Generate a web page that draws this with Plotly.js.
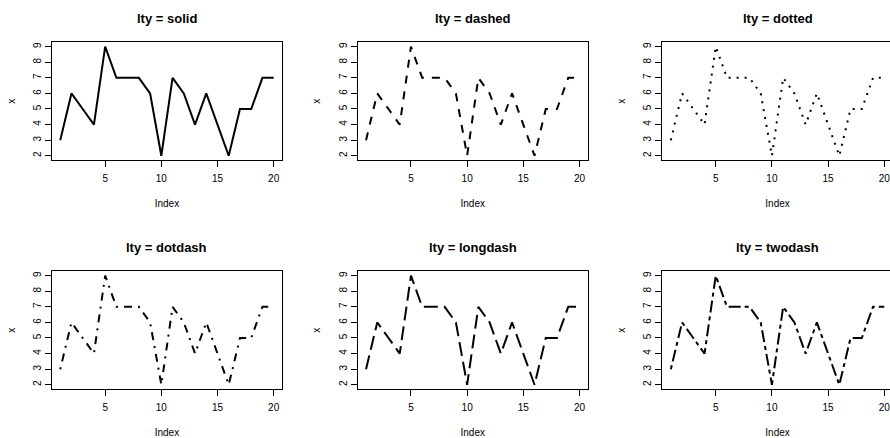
<!DOCTYPE html>
<html>
<head>
<meta charset="utf-8">
<script src="https://cdn.plot.ly/plotly-3.0.1.min.js"></script>
<style>
html, body { margin: 0; padding: 0; overflow: hidden; background: #fff; }
#chart { width: 900px; height: 438px; }
</style>
</head>
<body>
<div id="chart"></div>
<script>
// Data
const index = [1,2,3,4,5,6,7,8,9,10,11,12,13,14,15,16,17,18,19,20];
const xValues = [3,6,5,4,9,7,7,7,6,2,7,6,4,6,4,2,5,5,7,7];
const ltyNames = ["solid","dashed","dotted","dotdash","longdash","twodash"];
const dashPatterns = ["solid","8px,8px","2px,6px","2px,6px,8px,6px","14px,6px","4px,4px,12px,4px"];
const xTicks = [5,10,15,20];
const yTicks = [2,3,4,5,6,7,8,9];

const W = 900, H = 438;
const colLeft = [51.7, 357.5, 662.3];
const boxW = 230.5;
const rowTop = [42.3, 271.3];
const boxH = 117.8;
const FONT = '"Liberation Sans", Arial, Helvetica, sans-serif';

const traces = [];
const layout = {
  width: W, height: H,
  margin: {l:0, r:0, t:0, b:0},
  paper_bgcolor: '#fff', plot_bgcolor: '#fff',
  showlegend: false,
  font: {family: FONT, color: '#000', size: 10},
  annotations: []
};

ltyNames.forEach((name, i) => {
  const r = Math.floor(i / 3), c = i % 3;
  const n = i + 1;
  const xa = 'xaxis' + (n === 1 ? '' : n);
  const ya = 'yaxis' + (n === 1 ? '' : n);
  const xref = 'x' + (n === 1 ? '' : n);
  const yref = 'y' + (n === 1 ? '' : n);
  traces.push({
    type: 'scatter', mode: 'lines',
    x: index, y: xValues,
    xaxis: xref, yaxis: yref,
    line: {color: '#000', width: 2, dash: dashPatterns[i]},
    hoverinfo: 'skip'
  });
  const x0 = colLeft[c] / W, x1 = (colLeft[c] + boxW) / W;
  const yTop = 1 - rowTop[r] / H, yBot = 1 - (rowTop[r] + boxH) / H;
  layout[xa] = {
    domain: [x0, Math.min(x1, 1)],
    range: [0.24, 20.76],
    tickvals: xTicks, ticktext: xTicks.map(String),
    ticks: 'outside', ticklen: 6, tickwidth: 1, tickcolor: '#000',
    ticklabelstandoff: 3,
    showline: true, mirror: true, linecolor: '#000', linewidth: 1,
    showgrid: false, zeroline: false,
    tickfont: {family: FONT, size: 10, color: '#000'},
    title: {text: 'Index', font: {family: FONT, size: 10, color: '#000'}, standoff: 16},
    anchor: yref, fixedrange: true
  };
  layout[ya] = {
    domain: [yBot, yTop],
    range: [1.72, 9.28],
    tickvals: yTicks, ticktext: yTicks.map(String),
    tickangle: -90,
    ticks: 'outside', ticklen: 6, tickwidth: 1, tickcolor: '#000',
    showline: true, mirror: true, linecolor: '#000', linewidth: 1,
    showgrid: false, zeroline: false,
    tickfont: {family: FONT, size: 10, color: '#000'},
    title: {text: 'x', font: {family: FONT, size: 10, color: '#000'}, standoff: 14},
    anchor: xref, fixedrange: true
  };
  layout.annotations.push({
    text: '<b>lty = ' + name + '</b>',
    xref: 'paper', yref: 'paper',
    x: (colLeft[c] + boxW / 2) / W,
    y: 1 - (rowTop[r] - 24) / H,
    xanchor: 'center', yanchor: 'middle',
    showarrow: false,
    font: {family: FONT, size: 13, color: '#000'}
  });
});

Plotly.newPlot('chart', traces, layout, {staticPlot: true, displayModeBar: false});
</script>
</body>
</html>
